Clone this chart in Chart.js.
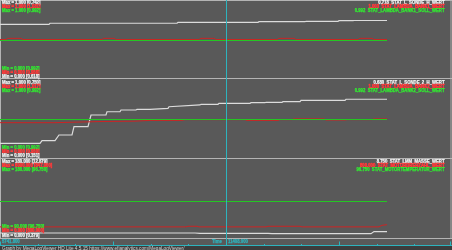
<!DOCTYPE html>
<html><head><meta charset="utf-8">
<script src="https://cdn.jsdelivr.net/npm/chart.js@4"></script>
<style>html,body{margin:0;padding:0;background:#595959;overflow:hidden}canvas{display:block}</style>
</head><body>
<canvas id="c" width="452" height="250"></canvas>
<script>
// ---------------- data ----------------
const timeStart = 5741.8, timeEnd = 17074.2, cursorTime = 11408.0;
const timeTicks = [5741.8, 6686.2, 7630.5, 8574.9, 9519.3, 10463.6, 11408.0, 12352.4, 13296.7, 14241.1, 15185.5, 16129.8, 17074.2];

// panel 1
const lSonde1 = [[5742,0.691],[6970,0.691],[6995,0.705],[10180,0.705],[10205,0.718],[12210,0.718],[12236,0.726],[13389,0.726],[13414,0.731],[14216,0.731],[14241,0.739],[14592,0.739],[14617,0.742],[15445,0.742]];
const lambda1 = [[5742,1.003],[5892,1.003],[5942,1.006],[6268,1.006],[6318,1.003],[8299,1.003],[8349,1.006],[8600,1.006],[8650,1.003],[10731,1.003],[10781,1.006],[11107,1.006],[11157,1.003],[12687,1.003],[12737,1.006],[13113,1.006],[13163,1.003],[14718,1.003],[14768,1.006],[15069,1.006],[15119,1.003],[15445,1.003]];
const lambda1Soll = [[5742,0.992],[15445,0.992]];

// panel 2
const lSonde2 = [[5742,0.174],[6745,0.174],[6795,0.208],[7121,0.208],[7221,0.283],[7547,0.283],[7597,0.392],[7948,0.392],[8023,0.546],[8399,0.546],[8424,0.589],[8750,0.589],[8775,0.612],[9152,0.612],[9177,0.621],[9503,0.621],[9954,0.634],[9979,0.655],[10756,0.678],[10781,0.687],[11207,0.687],[11232,0.700],[12010,0.700],[12035,0.708],[12386,0.708],[12411,0.713],[12812,0.713],[12837,0.721],[13264,0.721],[13289,0.739],[14392,0.739],[14417,0.753],[15445,0.753]];
const lambda2 = [[5742,0.992],[7121,0.992],[8249,0.995],[9127,0.996],[9503,0.998],[10305,0.998],[10380,1.000],[11884,1.000],[11935,0.998],[12712,0.998],[12762,1.000],[13063,1.000],[13113,1.002],[13865,1.002],[13915,0.999],[14392,0.999],[14442,1.000],[15069,1.000],[15119,1.002],[15445,1.002]];
const lambda2Soll = [[5742,0.992],[15445,0.992]];

// panel 3
const lmmMasse = [[5742,9.47],[10631,9.47],[10756,8.75],[12461,8.75],[12561,7.82],[15044,7.82],[15119,12.879],[15445,12.879]];
const drehzahl = [[5742,800],[10405,800],[10455,847],[10681,847],[10731,800],[12411,800],[12461,847],[13264,847],[13314,800],[15244,800],[15319,924],[15445,971]];
const motorTemp = [[5742,96.75],[15445,96.75]];

// label texts
const leftTop = [
  ["Max = 1.000 [0.742]","Max = 1.000 [1.031]","Max = 1.000 [0.992]"],
  ["Max = 1.000 [0.750]","Max = 1.000 [1.017]","Max = 1.000 [0.992]"],
  ["Max = 180.000 [12.879]","Max = 6000.000 [847.000]","Max = 180.000 [96.750]"]
];
const leftBottom = [
  ["Min = 0.000 [0.992]","Min = 0.000 [0.956]","Min = 0.000 [0.618]"],
  ["Min = 0.000 [0.992]","Min = 0.000 [0.950]","Min = 0.000 [0.151]"],
  ["Min = 90.000 [96.750]","Min = 0.000 [800.000]","Min = 0.000 [0.379]"]
];
const rightTop = [
  ["0.718  STAT_L_SONDE_H_WERT","1.003  STAT_LAMBDA_BANK1_WERT","0.992  STAT_LAMBDA_BANK1_SOLL_WERT"],
  ["0.680  STAT_L_SONDE_2_H_WERT","1.000  STAT_LAMBDA_BANK2_WERT","0.992  STAT_LAMBDA_BANK2_SOLL_WERT"],
  ["8.750  STAT_LMM_MASSE_WERT","800.000  STAT_MOTORDREHZAHL_WERT","96.750  STAT_MOTORTEMPERATUR_WERT"]
];
const timeLeftLabel = "5741.800", timeName = "Time", cursorLabel = "11408.000";
const footerText = "Graph by MegaLogViewer HD Lite 4.5.15 https://www.efianalytics.com/MegaLogViewer/";

// ---------------- layout / style ----------------
const W = 452, H = 250;
const BG = '#595959', FRAME = '#b4b4b4', CYAN = '#2db4be';
const C_WHITE = '#dcdcdc', C_RED = '#cc2424', C_GREEN = '#24c824';
const T_WHITE = '#f2f2f2', T_RED = '#ff3a3a', T_GREEN = '#30f030';
const panels = [
  {top:1, bottom:76.5, f0:0.5, f1:78.5, ty:[2.6,6.6,10.6], by:[68.5,72.5,76.4]},
  {top:80.5, bottom:156.5, f0:78.5, f1:158.5, ty:[82.2,86.2,90.3], by:[147.3,151.3,155.4]},
  {top:161, bottom:237, f0:158.5, f1:238.5, ty:[161.3,165.3,169.5], by:[227,231,235.3]}
];
function band(p, lo, hi){
  const span = p.bottom - p.top;
  return {min: lo - (H - p.bottom)/span*(hi-lo), max: lo + p.bottom/span*(hi-lo)};
}
const axisDefs = {
  y1w: band(panels[0], 0, 1),
  y1r: band(panels[0], 0.905, 1.105),
  y1g: band(panels[0], 0.8966, 1.0966),
  y2w: band(panels[1], 0, 1),
  y2r: band(panels[1], 0.903, 1.103),
  y2g: band(panels[1], 0.8946, 1.0946),
  y3w: band(panels[2], 0, 180),
  y3r: band(panels[2], 0, 6000),
  y3g: band(panels[2], 23.88, 179.88)
};
const scales = {
  x: {type:'linear', min: timeStart, max: timeEnd, display:false}
};
for (const k in axisDefs) scales[k] = {type:'linear', display:false, min: axisDefs[k].min, max: axisDefs[k].max};

const pts = a => a.map(([x,y]) => ({x,y}));
function ds(label, data, axis, color, order, w){
  return {label, data: pts(data), yAxisID: axis, borderColor: color, backgroundColor: color,
    borderWidth: w || 1, pointRadius: 0, tension: 0, fill: false, order};
}

const FONT_B = 'bold 5px "Liberation Sans", Arial, sans-serif';
const FONT_N = '5px "Liberation Sans", Arial, sans-serif';
function txt(c, s, x, y, sx, heavy){
  c.save(); c.translate(x, y); c.scale(sx, 1);
  if (heavy){ c.strokeStyle = c.fillStyle; c.lineWidth = heavy; c.strokeText(s, 0, 0); }
  c.fillText(s, 0, 0); c.restore();
}

const decor = {
  id: 'decor',
  beforeDraw(chart){
    const c = chart.ctx;
    c.save();
    c.fillStyle = BG; c.fillRect(0,0,W,H);
    c.strokeStyle = FRAME; c.lineWidth = 1;
    c.beginPath();
    for (const p of panels){ c.moveTo(0, p.f0); c.lineTo(W, p.f0); c.moveTo(0,p.f1); c.lineTo(W,p.f1); }
    c.moveTo(0.5, 0.5); c.lineTo(0.5, 238.5);
    c.moveTo(451, 0.5); c.lineTo(451, 238.5);
    c.stroke();
    c.fillStyle = '#3c3c3c'; c.fillRect(0, 246, W, 4);
    c.restore();
  },
  afterDraw(chart){
    const c = chart.ctx, xs = chart.scales.x;
    c.save();
    // time axis
    c.strokeStyle = CYAN; c.lineWidth = 1;
    c.beginPath(); c.moveTo(0, 245.5); c.lineTo(W, 245.5);
    timeTicks.forEach((v,i) => {
      let px = Math.round(xs.getPixelForValue(v)) + 0.5;
      if (px > W - 0.5) px = W - 1.5;
      if (px < 0.5) px = 0.5;
      const len = (i % 3 === 0) ? 4 : 1.5;
      c.moveTo(px, 245.5); c.lineTo(px, 245.5 - len);
    });
    c.stroke();
    // cursor
    const cx = Math.round(xs.getPixelForValue(cursorTime)) + 0.5;
    c.beginPath(); c.moveTo(cx, 0); c.lineTo(cx, 246); c.stroke();
    // texts
    c.font = FONT_B;
    c.textBaseline = 'middle';
    const tcol = [T_WHITE, T_RED, T_GREEN];
    const bcol = [T_GREEN, T_RED, T_WHITE];
    const wt = [0.25, 0.45, 0.25];
    const bwt = [0.25, 0.45, 0.25];
    const SX = 0.85;
    panels.forEach((p, pi) => {
      c.textAlign = 'left';
      leftTop[pi].forEach((s,i) => { c.fillStyle = tcol[i]; txt(c, s, 2, p.ty[i], SX, wt[i]); });
      leftBottom[pi].forEach((s,i) => { c.fillStyle = bcol[i]; txt(c, s, 2, p.by[i], SX, bwt[i]); });
      c.textAlign = 'right';
      rightTop[pi].forEach((s,i) => { c.fillStyle = tcol[i]; txt(c, s, 444.5, p.ty[i], SX, wt[i]); });
    });
    c.textAlign = 'left'; c.fillStyle = CYAN;
    txt(c, timeLeftLabel, 2, 241.2, SX, 0.25);
    txt(c, timeName, 212, 241.2, SX, 0.25);
    txt(c, cursorLabel, 228, 241.2, SX, 0.25);
    c.font = FONT_N;
    c.fillStyle = '#d4d4d4';
    txt(c, footerText, 2, 248.3, 0.94, 0);
    c.restore();
  }
};

new Chart(document.getElementById('c'), {
  type: 'line',
  data: { datasets: [
    ds('STAT_L_SONDE_H_WERT', lSonde1, 'y1w', C_WHITE, 3, 1.2),
    ds('STAT_LAMBDA_BANK1_WERT', lambda1, 'y1r', C_RED, 2),
    ds('STAT_LAMBDA_BANK1_SOLL_WERT', lambda1Soll, 'y1g', C_GREEN, 1),
    ds('STAT_L_SONDE_2_H_WERT', lSonde2, 'y2w', C_WHITE, 3, 1.2),
    ds('STAT_LAMBDA_BANK2_WERT', lambda2, 'y2r', C_RED, 2),
    ds('STAT_LAMBDA_BANK2_SOLL_WERT', lambda2Soll, 'y2g', C_GREEN, 1),
    ds('STAT_LMM_MASSE_WERT', lmmMasse, 'y3w', C_WHITE, 3, 1.2),
    ds('STAT_MOTORDREHZAHL_WERT', drehzahl, 'y3r', C_RED, 2),
    ds('STAT_MOTORTEMPERATUR_WERT', motorTemp, 'y3g', C_GREEN, 1)
  ]},
  options: {
    responsive: false, animation: false, devicePixelRatio: 1,
    layout: {padding: 0},
    plugins: {legend: {display:false}, tooltip: {enabled:false}},
    scales
  },
  plugins: [decor]
});
</script>
</body></html>
